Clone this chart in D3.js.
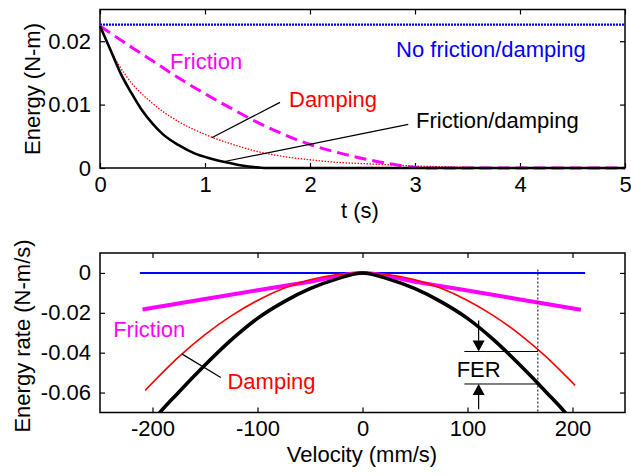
<!DOCTYPE html>
<html>
<head>
<meta charset="utf-8">
<script src="https://cdn.jsdelivr.net/npm/d3@7"></script>
<style>
  body { margin: 0; background: #fff; }
  svg { display: block; font-family: "Liberation Sans", Arial, sans-serif; }
</style>
</head>
<body>
<div id="chart"></div>
<script>
// top panel: energy vs time
const tTicks = [0, 1, 2, 3, 4, 5];
const tTickLabels = ["0", "1", "2", "3", "4", "5"];
const eTicks = [0, 0.01, 0.02];
const eTickLabels = ["0", "0.01", "0.02"];

const noneT = [0, 5];
const noneE = [0.0226, 0.0226];
const dampT = [0, 0.1, 0.25, 0.5, 0.75, 1, 1.25, 1.5, 1.75, 2, 2.25, 2.5, 2.75, 3, 3.25, 3.5, 4, 5];
const dampE = [0.0224, 0.0186, 0.0145, 0.0102, 0.0073, 0.0053, 0.0038, 0.0026, 0.0018, 0.0013, 0.0009, 0.0007, 0.0005, 0.0003, 0.0002, 0.0001, 0, 0];
const fricT = [0, 0.25, 0.5, 0.75, 1, 1.25, 1.5, 1.75, 2, 2.25, 2.5, 2.75, 3, 3.1, 5];
const fricE = [0.0224, 0.0196, 0.0169, 0.0142, 0.0117, 0.0094, 0.0072, 0.0053, 0.0037, 0.0025, 0.0015, 0.0007, 0.0001, 0, 0];
const bothT = [0, 0.1, 0.2, 0.3, 0.4, 0.5, 0.6, 0.75, 0.9, 1.05, 1.2, 1.35, 1.5, 1.6, 5];
const bothE = [0.0224, 0.0186, 0.0148, 0.0118, 0.0091, 0.0070, 0.0053, 0.0036, 0.0023, 0.0015, 0.0009, 0.0004, 0.0001, 0, 0];

// bottom panel: energy rate vs velocity
const vTicks = [-200, -100, 0, 100, 200];
const vTickLabels = ["-200", "-100", "0", "100", "200"];
const rTicks = [0, -0.02, -0.04, -0.06];
const rTickLabels = ["0", "-0.02", "-0.04", "-0.06"];

const noneV = [-212, 212];
const noneR = [0, 0];
const fricV = [-209.5, -150, -100, -50, 0, 50, 100, 150, 208];
const fricR = [-0.0183, -0.0131, -0.0087, -0.0044, 0, -0.0044, -0.0088, -0.0133, -0.0185];
const dampV = [-207, -175, -150, -125, -100, -75, -50, -25, 0, 25, 50, 75, 100, 125, 150, 175, 202.5];
const dampR = [-0.0589, -0.0421, -0.0309, -0.0215, -0.0138, -0.0077, -0.0034, -0.0009, 0, -0.0009, -0.0034, -0.0077, -0.0138, -0.0215, -0.0309, -0.0421, -0.0564];
const bothV = [-215, -200, -175, -150, -125, -100, -75, -50, -25, 0, 25, 50, 75, 100, 125, 150, 175, 200, 215];
const bothR = [-0.086, -0.0745, -0.0598, -0.0462, -0.0336, -0.0228, -0.0145, -0.0079, -0.0031, 0, -0.0031, -0.0079, -0.0145, -0.0228, -0.0336, -0.0462, -0.0598, -0.0745, -0.086];

const ferV = 167;          // dotted reference velocity
const ferArrowV = 110.6;

const W = 631, H = 476;
const svg = d3.select('#chart').append('svg').attr('width', W).attr('height', H);
svg.append('rect').attr('width', W).attr('height', H).attr('fill', '#fff');

const zip = (xs, ys) => xs.map((x, i) => [x, ys[i]]);

function panel(xDom, yDom, box, xT, xL, yT, yL) {
  const x = d3.scaleLinear().domain(xDom).range([box.left, box.right]);
  const y = d3.scaleLinear().domain(yDom).range([box.bottom, box.top]);
  const g = svg.append('g');
  const fmt = (ticks, labels) => d => labels[ticks.indexOf(d)];

  g.append('g').attr('transform', `translate(0,${box.bottom})`)
    .call(d3.axisBottom(x).tickValues(xT).tickFormat(fmt(xT, xL)).tickSizeInner(-5).tickSizeOuter(0).tickPadding(8));
  g.append('g').attr('transform', `translate(0,${box.top})`)
    .call(d3.axisTop(x).tickValues(xT).tickFormat('').tickSizeInner(-5).tickSizeOuter(0));
  g.append('g').attr('transform', `translate(${box.left},0)`)
    .call(d3.axisLeft(y).tickValues(yT).tickFormat(fmt(yT, yL)).tickSizeInner(-5).tickSizeOuter(0).tickPadding(9));
  g.append('g').attr('transform', `translate(${box.right},0)`)
    .call(d3.axisRight(y).tickValues(yT).tickFormat('').tickSizeInner(-5).tickSizeOuter(0));

  g.selectAll('.domain').remove();
  g.selectAll('.tick line').attr('stroke', '#000').attr('stroke-width', 1.2);
  g.selectAll('.tick text').attr('font-size', 22).attr('fill', '#000')
    .attr('font-family', '"Liberation Sans", Arial, sans-serif');

  g.append('rect')
    .attr('x', box.left).attr('y', box.top)
    .attr('width', box.right - box.left).attr('height', box.bottom - box.top)
    .attr('fill', 'none').attr('stroke', '#000').attr('stroke-width', 1.5);
  return { x, y, g };
}

function curve(p, pts, color, width, dash, clip) {
  const line = d3.line().curve(d3.curveMonotoneX).x(d => p.x(d[0])).y(d => p.y(d[1]));
  const path = p.g.append('path').datum(pts)
    .attr('d', line).attr('fill', 'none')
    .attr('stroke', color).attr('stroke-width', width)
    .attr('stroke-linejoin', 'round');
  if (dash) path.attr('stroke-dasharray', dash);
  if (clip) path.attr('clip-path', clip);
  return path;
}

function label(p, x, y, txt, color, anchor) {
  p.g.append('text').attr('x', p.x(x)).attr('y', p.y(y))
    .attr('font-size', 22).attr('fill', color)
    .attr('text-anchor', anchor || 'start').text(txt);
}

function seg(p, x1, y1, x2, y2, width, dash) {
  const l = p.g.append('line')
    .attr('x1', p.x(x1)).attr('y1', p.y(y1))
    .attr('x2', p.x(x2)).attr('y2', p.y(y2))
    .attr('stroke', '#000').attr('stroke-width', width || 1);
  if (dash) l.attr('stroke-dasharray', dash);
}

// ---- top
const topP = panel([0, 5], [0, 0.025], { left: 100, right: 625, top: 9.5, bottom: 168 },
  tTicks, tTickLabels, eTicks, eTickLabels);

curve(topP, zip(noneT, noneE), '#0000ff', 2.2, '2,1');
curve(topP, zip(dampT, dampE), '#ff0000', 1.3, '1.5,1.5');
curve(topP, zip(fricT, fricE), '#ff00ff', 3, '12,6');
curve(topP, zip(bothT, bothE), '#000', 2.6);

label(topP, 0.667, 0.0156, 'Friction', '#ff00ff');
label(topP, 2.82, 0.01743, 'No friction/damping', '#0000ff');
label(topP, 1.8, 0.00965, 'Damping', '#ff0000');
label(topP, 3.01, 0.00625, 'Friction/damping', '#000');
seg(topP, 1.714, 0.01035, 1.064, 0.00478, 1.2);
seg(topP, 2.936, 0.00688, 1.174, 0.00099, 1.2);

topP.g.append('text').attr('x', 360).attr('y', 218)
  .attr('font-size', 22).attr('text-anchor', 'middle').text('t (s)');
topP.g.append('text').attr('transform', 'translate(40,89) rotate(-90)')
  .attr('font-size', 22).attr('text-anchor', 'middle').text('Energy (N-m)');

// ---- bottom
const botP = panel([-250, 250], [-0.07, 0.01], { left: 100, right: 625, top: 253, bottom: 412.5 },
  vTicks, vTickLabels, rTicks, rTickLabels);

svg.append('clipPath').attr('id', 'clipBot').append('rect')
  .attr('x', 100).attr('y', 253).attr('width', 525).attr('height', 159.5);

curve(botP, zip(noneV, noneR), '#0000ff', 2);
curve(botP, zip(fricV, fricR), '#ff00ff', 4);
curve(botP, zip(dampV, dampR), '#ff0000', 1.6);
curve(botP, zip(bothV, bothR), '#000', 3.6, null, 'url(#clipBot)');

// FER marker
seg(botP, ferV, 0.0017, ferV, -0.07, 1, '2,2');
seg(botP, 97, -0.0394, ferV, -0.0394, 1);
seg(botP, 97, -0.0557, ferV, -0.0557, 1);
seg(botP, ferArrowV, -0.0239, ferArrowV, -0.034, 1.2);
seg(botP, ferArrowV, -0.0684, ferArrowV, -0.061, 1.2);
const ax = botP.x(ferArrowV);
const tipA = botP.y(-0.0394), tipB = botP.y(-0.0557);
botP.g.append('path')
  .attr('d', `M${ax},${tipA} L${ax - 6},${tipA - 11} L${ax + 6},${tipA - 11} Z`).attr('fill', '#000');
botP.g.append('path')
  .attr('d', `M${ax},${tipB} L${ax - 6},${tipB + 11} L${ax + 6},${tipB + 11} Z`).attr('fill', '#000');
label(botP, ferArrowV, -0.052, 'FER', '#000', 'middle');

label(botP, -237.5, -0.0323, 'Friction', '#ff00ff');
label(botP, -128.6, -0.058, 'Damping', '#ff0000');
seg(botP, -172.1, -0.0406, -135, -0.0524, 1.2);

botP.g.append('text').attr('x', 362).attr('y', 462)
  .attr('font-size', 22).attr('text-anchor', 'middle').text('Velocity (mm/s)');
botP.g.append('text').attr('transform', 'translate(30,336) rotate(-90)')
  .attr('font-size', 22).attr('text-anchor', 'middle').text('Energy rate (N-m/s)');
</script>
</body>
</html>
